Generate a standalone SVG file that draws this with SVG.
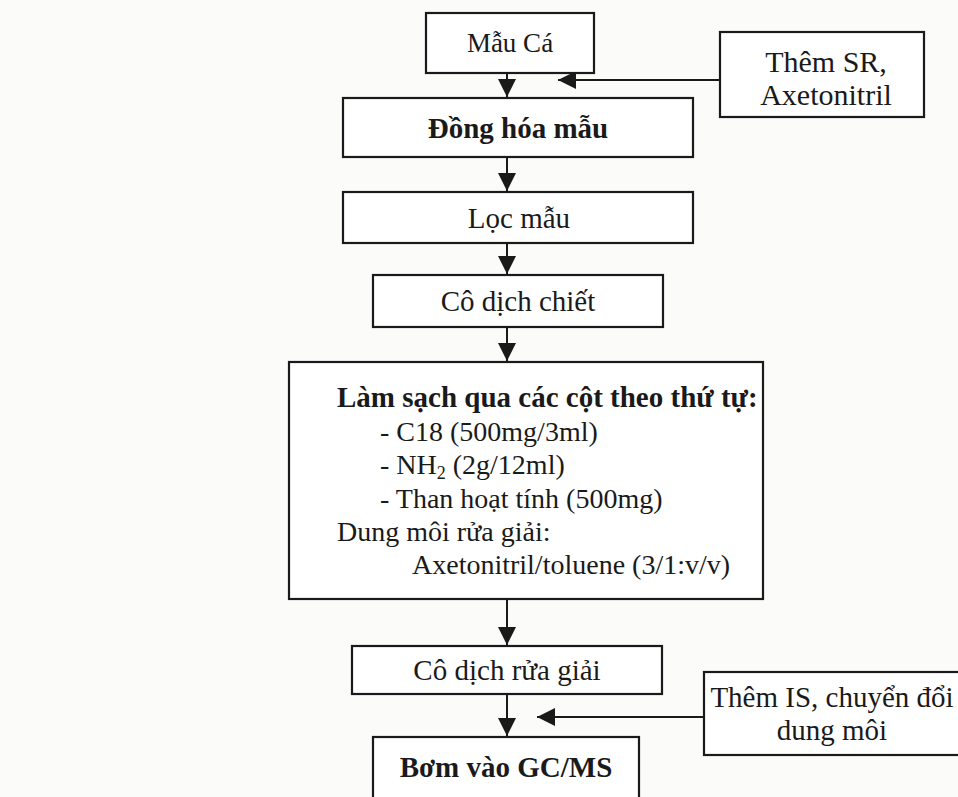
<svg xmlns="http://www.w3.org/2000/svg" width="958" height="797" viewBox="0 0 958 797">
<style>
  .box{fill:#ffffff;stroke:#1a1a1a;stroke-width:2.2}
  .t{font-family:'Liberation Serif','Tinos','Times New Roman','DejaVu Serif',serif;font-size:29px;fill:#1a1a1a}
  .s{font-size:28px}
  .c{text-anchor:middle}
  .b{font-weight:bold}
  .ln{stroke:#1a1a1a;stroke-width:2;fill:none}
</style>
<defs>
  <marker id="ah" markerUnits="userSpaceOnUse" markerWidth="20" markerHeight="18" refX="18" refY="9" orient="auto">
    <path d="M0,0 L18,9 L0,18 z" fill="#1a1a1a"/>
  </marker>
</defs>
<rect x="0" y="0" width="958" height="797" fill="#fbfbfa"/>
<g id="connectors">
  <line class="ln" x1="507" y1="73" x2="507" y2="97" marker-end="url(#ah)"/>
  <line class="ln" x1="720" y1="80" x2="558" y2="80" marker-end="url(#ah)"/>
  <line class="ln" x1="507" y1="157" x2="507" y2="191" marker-end="url(#ah)"/>
  <line class="ln" x1="507" y1="243" x2="507" y2="274" marker-end="url(#ah)"/>
  <line class="ln" x1="507" y1="327" x2="507" y2="361" marker-end="url(#ah)"/>
  <line class="ln" x1="507" y1="599" x2="507" y2="645" marker-end="url(#ah)"/>
  <line class="ln" x1="507" y1="694" x2="507" y2="736" marker-end="url(#ah)"/>
  <line class="ln" x1="704" y1="717" x2="537" y2="717" marker-end="url(#ah)"/>
</g>
<g id="mau-ca">
  <rect class="box" x="426" y="13" width="168" height="60"/>
  <text class="t c" x="510" y="52" style="font-size:27px">Mẫu Cá</text>
</g>
<g id="them-sr">
  <rect class="box" x="720" y="32" width="204" height="85"/>
  <text class="t c" x="826" y="72" style="font-size:30px">Thêm SR,</text>
  <text class="t c" x="826" y="105" style="font-size:30px">Axetonitril</text>
</g>
<g id="dong-hoa">
  <rect class="box" x="343" y="98" width="350" height="59"/>
  <text class="t c b" x="518" y="138">Đồng hóa mẫu</text>
</g>
<g id="loc-mau">
  <rect class="box" x="343" y="192" width="350" height="51"/>
  <text class="t c" x="519" y="228">Lọc mẫu</text>
</g>
<g id="co-dich-chiet">
  <rect class="box" x="373" y="275" width="290" height="52"/>
  <text class="t c" x="518" y="311">Cô dịch chiết</text>
</g>
<g id="lam-sach">
  <rect class="box" x="289" y="362" width="474" height="237"/>
  <text class="t b" x="337" y="407">Làm sạch qua các cột theo thứ tự:</text>
  <text class="t s" x="380" y="441">- C18 (500mg/3ml)</text>
  <text class="t s" x="380" y="474">- NH<tspan style="font-size:18px" dy="5">2</tspan><tspan dy="-5"> (2g/12ml)</tspan></text>
  <text class="t s" x="380" y="508">- Than hoạt tính (500mg)</text>
  <text class="t s" x="337" y="541">Dung môi rửa giải:</text>
  <text class="t s" x="412" y="574">Axetonitril/toluene (3/1:v/v)</text>
</g>
<g id="co-dich-rua-giai">
  <rect class="box" x="352" y="646" width="310" height="48"/>
  <text class="t c" x="507" y="680">Cô dịch rửa giải</text>
</g>
<g id="them-is">
  <rect class="box" x="704" y="672" width="262" height="83"/>
  <text class="t c" x="832" y="707">Thêm IS, chuyển đổi</text>
  <text class="t c" x="832" y="740">dung môi</text>
</g>
<g id="bom">
  <rect class="box" x="373" y="737" width="266" height="80"/>
  <text class="t c b" x="506" y="777">Bơm vào GC/MS</text>
</g>
</svg>
